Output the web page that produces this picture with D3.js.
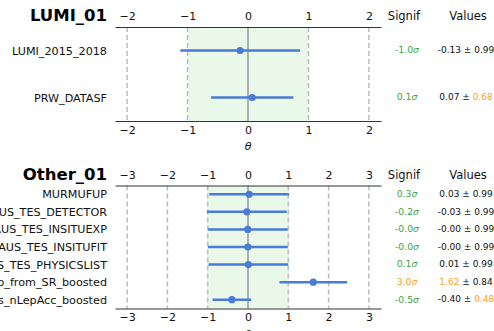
<!DOCTYPE html>
<html>
<head>
<meta charset="utf-8">
<script src="https://cdn.jsdelivr.net/npm/d3@7"></script>
<style>
  html, body { margin: 0; padding: 0; background: #fff; }
  svg { display: block; font-family: "DejaVu Sans", sans-serif; }
</style>
</head>
<body>
<svg id="chart" width="494" height="331"></svg>
<script>
// Nuisance-parameter pulls, grouped into two panels
const lumiNames = ["LUMI_2015_2018", "PRW_DATASF"];
const lumiPulls = [-0.13, 0.07];
const lumiErrors = [0.99, 0.68];
const lumiSignif = ["-1.0", "0.1"];

const otherNames = [
  "MURMUFUP",
  "TAUS_TES_DETECTOR",
  "TAUS_TES_INSITUEXP",
  "TAUS_TES_INSITUFIT",
  "TAUS_TES_PHYSICSLIST",
  "Fakes_extrapo_from_SR_boosted",
  "Fakes_nLepAcc_boosted"
];
const otherPulls = [0.03, -0.03, -0.004, -0.002, 0.01, 1.62, -0.40];
const otherErrors = [0.99, 0.99, 0.99, 0.99, 0.99, 0.84, 0.48];
const otherSignif = ["0.3", "-0.2", "-0.0", "-0.0", "0.1", "3.0", "-0.5"];

const lumiTicks = [-2, -1, 0, 1, 2];
const otherTicks = [-3, -2, -1, 0, 1, 2, 3];

const BLUE = "#4a7bd6";
const GREEN = "#3ea33e";
const ORANGE = "#f7a21b";

const svg = d3.select("#chart");

function panel(cfg) {
  const g = svg.append("g");
  const x = d3.scaleLinear().domain(cfg.domain).range([115, 381]);
  const y = d3.scalePoint().domain(cfg.names).range([cfg.top, cfg.bottom]).padding(0.5);

  // ±1σ band
  g.append("rect")
    .attr("x", x(-1)).attr("width", x(1) - x(-1))
    .attr("y", cfg.top).attr("height", cfg.bottom - cfg.top)
    .attr("fill", "#eaf8ea");

  // reference lines at the integer ticks
  g.selectAll("line.grid").data(cfg.ticks).join("line")
    .attr("class", "grid")
    .attr("x1", d => x(d)).attr("x2", d => x(d))
    .attr("y1", cfg.top).attr("y2", cfg.bottom)
    .attr("stroke", d => d === 0 ? "#aab0b6" : "#b4bcc4")
    .attr("stroke-width", d => d === 0 ? 2 : 1.5)
    .attr("stroke-dasharray", d => d === 0 ? null : "5,3");

  // top and bottom axes
  const axTop = g.append("g").attr("transform", `translate(0,${cfg.top})`)
    .call(d3.axisTop(x).tickValues(cfg.ticks).tickSize(0).tickSizeOuter(0).tickPadding(7).tickFormat(d3.format("d")));
  const axBot = g.append("g").attr("transform", `translate(0,${cfg.bottom})`)
    .call(d3.axisBottom(x).tickValues(cfg.ticks).tickSize(0).tickSizeOuter(0).tickPadding(5).tickFormat(d3.format("d")));
  [axTop, axBot].forEach(a => {
    a.select(".domain").attr("stroke", "#333").attr("stroke-width", 1.2);
    a.selectAll("text").attr("font-size", 11).attr("fill", "#111").attr("font-family", "DejaVu Sans");
  });

  g.append("text")
    .attr("x", x(0)).attr("y", cfg.bottom + 29)
    .attr("text-anchor", "middle").attr("font-size", 11).attr("font-style", "italic")
    .attr("fill", "#111")
    .text("θ");

  // panel title
  g.append("text")
    .attr("x", 107).attr("y", cfg.top - 6)
    .attr("text-anchor", "end").attr("font-size", 16.5).attr("font-weight", "bold")
    .attr("fill", "#000")
    .text(cfg.title);

  g.append("text").attr("x", 404).attr("y", cfg.top - 7)
    .attr("text-anchor", "middle").attr("font-size", 11.5).attr("fill", "#111").text("Signif");
  g.append("text").attr("x", 468).attr("y", cfg.top - 7)
    .attr("text-anchor", "middle").attr("font-size", 11.5).attr("fill", "#111").text("Values");

  const rows = cfg.names.map((n, i) => ({
    name: n, pull: cfg.pulls[i], err: cfg.errors[i], sig: cfg.signif[i]
  }));

  // row labels
  g.selectAll("text.lab").data(rows).join("text")
    .attr("class", "lab")
    .attr("x", 107).attr("y", d => y(d.name))
    .attr("dy", "0.36em")
    .attr("text-anchor", "end").attr("font-size", cfg.labelSize).attr("fill", "#111")
    .text(d => d.name);

  // error bars and central values
  g.selectAll("line.err").data(rows).join("line")
    .attr("class", "err")
    .attr("x1", d => x(d.pull - d.err)).attr("x2", d => x(d.pull + d.err))
    .attr("y1", d => y(d.name)).attr("y2", d => y(d.name))
    .attr("stroke", BLUE).attr("stroke-width", 2.5);
  g.selectAll("circle.pt").data(rows).join("circle")
    .attr("class", "pt")
    .attr("cx", d => x(d.pull)).attr("cy", d => y(d.name)).attr("r", 3.6)
    .attr("fill", BLUE);

  // significance column
  g.selectAll("text.sig").data(rows).join("text")
    .attr("class", "sig")
    .attr("x", 407).attr("y", d => y(d.name)).attr("dy", "0.3em")
    .attr("text-anchor", "middle").attr("font-size", 9.3)
    .attr("fill", d => Math.abs(+d.sig) >= 2 ? ORANGE : GREEN)
    .call(t => {
      t.append("tspan").text(d => d.sig);
      t.append("tspan").attr("font-style", "italic").text("σ");
    });

  // value ± error column
  g.selectAll("text.val").data(rows).join("text")
    .attr("class", "val")
    .attr("x", 466).attr("y", d => y(d.name)).attr("dy", "0.3em")
    .attr("text-anchor", "middle").attr("font-size", 9).attr("fill", "#111")
    .call(t => {
      t.append("tspan")
        .attr("fill", d => Math.abs(d.pull) > 1 ? ORANGE : "#111")
        .text(d => d.pull.toFixed(2));
      t.append("tspan").attr("fill", "#111").text(" ± ");
      t.append("tspan")
        .attr("fill", d => d.err < 0.7 ? ORANGE : "#111")
        .text(d => d.err.toFixed(2));
    });
}

panel({
  title: "LUMI_01", names: lumiNames, pulls: lumiPulls, errors: lumiErrors,
  signif: lumiSignif, ticks: lumiTicks, domain: [-2.2, 2.2],
  top: 27, bottom: 121, labelSize: 11.2
});

panel({
  title: "Other_01", names: otherNames, pulls: otherPulls, errors: otherErrors,
  signif: otherSignif, ticks: otherTicks, domain: [-3.3, 3.3],
  top: 185.5, bottom: 308.5, labelSize: 11.2
});
</script>
</body>
</html>
